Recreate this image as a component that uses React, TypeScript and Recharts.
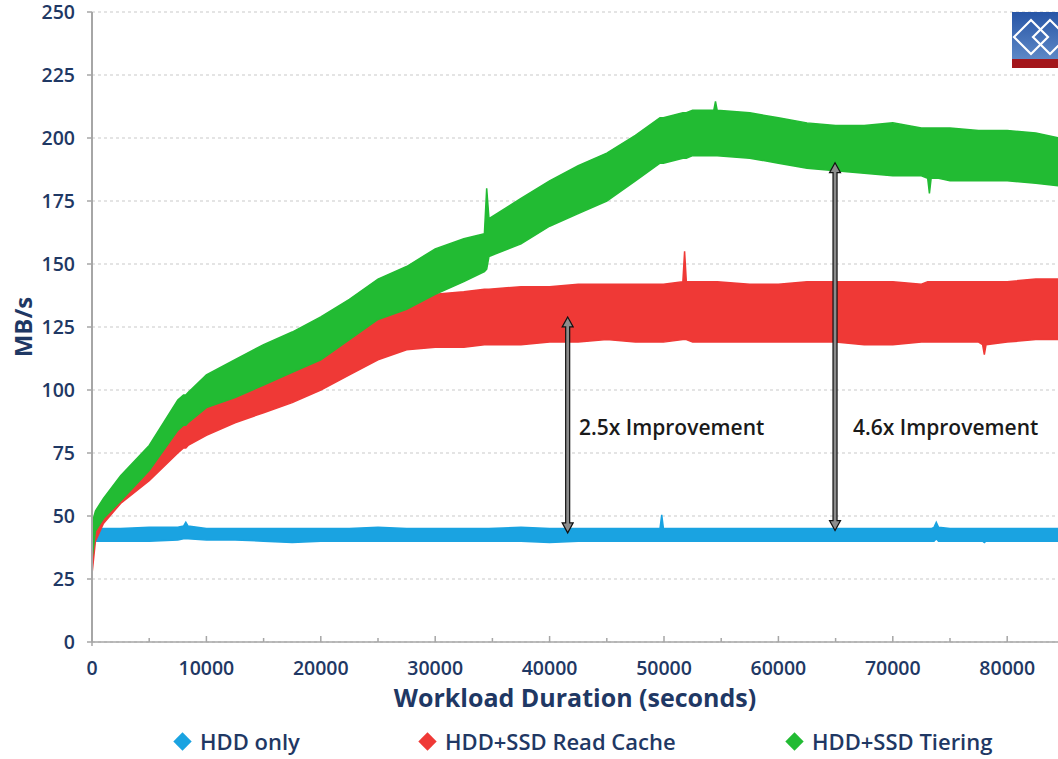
import React from "react";
import {
  ComposedChart,
  Area,
  XAxis,
  YAxis,
  CartesianGrid,
  Legend,
  Label,
  ReferenceLine,
  ReferenceDot,
} from "recharts";

// sample times (seconds), incl. narrow spike positions
const TIME = [
  0, 300, 1000, 2500, 5000, 7500, 8000, 8200, 8400, 10000, 12500, 15000, 17500, 20000, 22500,
  25000, 27500, 30000, 32500, 34300, 34500, 34700, 37500, 40000, 42500, 45000, 47500, 49650,
  49800, 49950, 51650, 51800, 51950, 52500, 54350, 54500, 54650, 57500, 60000, 62500, 65000,
  67500, 70000, 72500, 73050, 73200, 73350, 73600, 73800, 74000, 75000, 77500, 77850, 78000,
  78150, 80000, 82500, 84500,
];

// HDD only – low / high edge of the noisy trace (MB/s)
const HDD_LO = [
  40, 40, 40, 40, 40, 40.5, 41, 41, 41, 40.5, 40.5, 40, 39.5, 40, 40,
  40, 40, 40, 40, 40, 40, 40, 40, 39.5, 40, 40, 40, 40,
  40, 40, 40, 40, 40, 40, 40, 40, 40, 40, 40, 40, 40,
  40, 40, 40, 40, 40, 40, 40, 41, 40, 40, 40, 40, 39.5,
  40, 40, 40, 40,
];
const HDD_HI = [
  45, 45, 45, 45, 45.5, 45.5, 46, 47.5, 46, 45, 45, 45, 45, 45, 45,
  45.5, 45, 45, 45, 45, 45, 45, 45.5, 45, 45, 45, 45, 45,
  50.5, 45, 45, 45, 45, 45, 45, 45, 45, 45, 45, 45, 45,
  45, 45, 45, 45, 45, 45, 45.5, 47.5, 45.5, 45, 45, 45, 45,
  45, 45, 45, 45,
];

// HDD+SSD Read Cache
const CACHE_LO = [
  27, 40, 47, 55, 64, 75, 77, 77, 78, 82, 87, 91, 95, 100, 106,
  112, 116, 117, 117, 118, 118, 118, 118, 119, 119, 120, 119, 119,
  119, 119, 120, 120, 120, 119, 119, 119, 119, 119, 119, 119, 119,
  118, 118, 119, 119, 119, 119, 119, 119, 119, 119, 119, 118, 114,
  118, 119, 120, 120,
];
const CACHE_HI = [
  34, 47, 54, 62, 72, 86, 88, 88, 88, 93, 98, 103, 108, 114, 121,
  129, 134, 138, 139, 140, 140, 140, 141, 141, 142, 142, 142, 142,
  142, 142, 143, 155, 143, 143, 143, 143, 143, 142, 142, 143, 143,
  143, 143, 142, 143, 143, 143, 143, 143, 143, 143, 143, 143, 143,
  143, 143, 144, 144,
];

// HDD+SSD Tiering
const TIER_LO = [
  33, 44, 49, 56, 68, 84, 86, 86, 87, 93, 97, 102, 107, 112, 120,
  128, 132, 138, 143, 147, 148, 153, 158, 165, 170, 175, 183, 190,
  190, 190, 192, 192, 192, 193, 193, 193, 193, 192, 190, 188, 187,
  186, 185, 185, 184, 178, 184, 184, 184, 184, 183, 183, 183, 183,
  183, 183, 182, 181,
];
const TIER_HI = [
  47, 52, 57, 66, 78, 96, 98, 98, 99, 106, 112, 118, 123, 129, 136,
  144, 149, 156, 160, 162, 180, 168, 176, 183, 189, 194, 201, 208,
  208, 208, 210, 210, 210, 211, 211, 214.5, 211, 210, 208, 206, 205,
  205, 206, 204, 204, 204, 204, 204, 204, 204, 204, 203, 203, 203,
  203, 203, 202, 200,
];

const X_TICKS = [0, 5000, 10000, 15000, 20000, 25000, 30000, 35000, 40000, 45000, 50000, 55000, 60000, 65000, 70000, 75000, 80000];
const Y_TICKS = [0, 25, 50, 75, 100, 125, 150, 175, 200, 225, 250];

const NAVY = "#1f3864";
const AXIS = "#a6a6a6";
const FONT = "'Open Sans', 'DejaVu Sans', sans-serif";

const SERIES = [
  { key: "hdd", name: "HDD only", color: "#1aa3e1", lo: HDD_LO, hi: HDD_HI },
  { key: "cache", name: "HDD+SSD Read Cache", color: "#ef3936", lo: CACHE_LO, hi: CACHE_HI },
  { key: "tier", name: "HDD+SSD Tiering", color: "#22bb33", lo: TIER_LO, hi: TIER_HI },
];

const rows = TIME.map((t, i) => {
  const r: any = { t };
  SERIES.forEach((s) => (r[s.key] = [s.lo[i], s.hi[i]]));
  return r;
});

// legend item positions (left edge of marker)
const LEGEND_X = [176, 421, 788];

const XTick = (props: any) => {
  const { x, y, payload } = props;
  const major = payload.value % 10000 === 0;
  return (
    <g>
      <line x1={x} x2={x} y1={payload.value === 0 ? y + 4 : y} y2={y - (major ? 6 : 4)} stroke={AXIS} strokeWidth={1.5} />
      {major && (
        <text x={x} y={y + 25} textAnchor="middle" dominantBaseline="central" fill={NAVY} fontSize={19.5} fontWeight={600} fontFamily={FONT}>
          {payload.value}
        </text>
      )}
    </g>
  );
};

const DoubleArrow = (p: any) => {
  const x = p.x1;
  const top = Math.min(p.y1, p.y2);
  const bot = Math.max(p.y1, p.y2);
  const hw = 5.5, sw = 2, hl = 10;
  const d = `M${x},${top} L${x + hw},${top + hl} L${x + sw},${top + hl} L${x + sw},${bot - hl} L${x + hw},${bot - hl} L${x},${bot} L${x - hw},${bot - hl} L${x - sw},${bot - hl} L${x - sw},${top + hl} L${x - hw},${top + hl} Z`;
  return <path d={d} fill="#8c8c8c" stroke="#111" strokeWidth={1.2} />;
};

const noteShape = (text: string) => (p: any) => (
  <text x={p.cx} y={p.cy} dominantBaseline="central" fill="#1a1a1a" fontSize={21} fontWeight={600} fontFamily={FONT}>
    {text}
  </text>
);

const LegendContent = () => (
  <div style={{ position: "relative", height: 36, fontFamily: FONT }}>
    {SERIES.map((s, i) => (
      <div key={s.key} style={{ position: "absolute", left: LEGEND_X[i], top: 0, height: 36, display: "flex", alignItems: "center" }}>
        <span style={{ width: 13, height: 13, background: s.color, transform: "rotate(45deg)", display: "inline-block", marginRight: 11 }} />
        <span style={{ color: NAVY, fontSize: 22, fontWeight: 600, whiteSpace: "nowrap" }}>{s.name}</span>
      </div>
    ))}
  </div>
);

const Logo = () => (
  <svg width={46} height={56} style={{ position: "absolute", left: 1012, top: 12 }}>
    <defs>
      <linearGradient id="lg" x1="0" y1="0" x2="0" y2="1">
        <stop offset="0%" stopColor="#2755a6" />
        <stop offset="100%" stopColor="#5d88c6" />
      </linearGradient>
    </defs>
    <rect x={0} y={0} width={46} height={47} fill="url(#lg)" />
    <rect x={0} y={47} width={46} height={9} fill="#a3161b" />
    <path d="M2,25 L19,8 L36,25 L19,42 Z" fill="none" stroke="#fff" strokeWidth={2.2} />
    <path d="M21,25 L38,8 L55,25 L38,42 Z" fill="none" stroke="#fff" strokeWidth={2.2} />
  </svg>
);

export default function App() {
  return (
    <div style={{ position: "absolute", left: 0, top: 0, width: 1058, height: 759, background: "#fff" }}>
      <ComposedChart width={1058} height={759} data={rows} margin={{ top: 12, right: 0, bottom: 0, left: 0 }}>
        <CartesianGrid vertical={false} stroke="#c9c9c9" strokeDasharray="3 3" />
        <XAxis
          dataKey="t"
          type="number"
          domain={[0, 84440]}
          ticks={X_TICKS}
          allowDataOverflow
          interval={0}
          height={81}
          tickSize={0}
          tickMargin={0}
          tickLine={false}
          axisLine={{ stroke: AXIS, strokeWidth: 1.5 }}
          tick={<XTick />}
        >
          <Label
            content={({ viewBox }: any) => (
              <text x={viewBox.x + viewBox.width / 2} y={viewBox.y + 55} textAnchor="middle" dominantBaseline="central" fill={NAVY} fontSize={25} fontWeight={700} fontFamily={FONT}>
                Workload Duration (seconds)
              </text>
            )}
          />
        </XAxis>
        <YAxis
          type="number"
          domain={[0, 250]}
          ticks={Y_TICKS}
          interval={0}
          width={92}
          tickSize={5}
          tickMargin={12}
          tickLine={{ stroke: AXIS, strokeWidth: 1.5 }}
          axisLine={{ stroke: AXIS, strokeWidth: 2 }}
          tick={{ fill: NAVY, fontSize: 19.5, fontWeight: 600, fontFamily: FONT }}
        >
          <Label
            content={({ viewBox }: any) => (
              <text x={22} y={viewBox.y + viewBox.height / 2} transform={`rotate(-90 22 ${viewBox.y + viewBox.height / 2})`} textAnchor="middle" dominantBaseline="central" fill={NAVY} fontSize={24} fontWeight={700} fontFamily={FONT}>
                MB/s
              </text>
            )}
          />
        </YAxis>
        {SERIES.map((s) => (
          <Area
            key={s.key}
            dataKey={s.key}
            name={s.name}
            type="linear"
            stroke={s.color}
            strokeWidth={1.5}
            fill={s.color}
            fillOpacity={1}
            isAnimationActive={false}
            dot={false}
            activeDot={false}
          />
        ))}
        <ReferenceLine segment={[{ x: 41580, y: 43.3 }, { x: 41580, y: 129 }]} shape={DoubleArrow} ifOverflow="visible" />
        <ReferenceLine segment={[{ x: 64950, y: 44.2 }, { x: 64950, y: 190.2 }]} shape={DoubleArrow} ifOverflow="visible" />
        <ReferenceDot x={42570} y={85.4} r={0} shape={noteShape("2.5x Improvement")} />
        <ReferenceDot x={66520} y={85.4} r={0} shape={noteShape("4.6x Improvement")} />
        <Legend verticalAlign="bottom" height={36} wrapperStyle={{ left: 0, width: 1058 }} content={<LegendContent />} />
      </ComposedChart>
      <Logo />
    </div>
  );
}
